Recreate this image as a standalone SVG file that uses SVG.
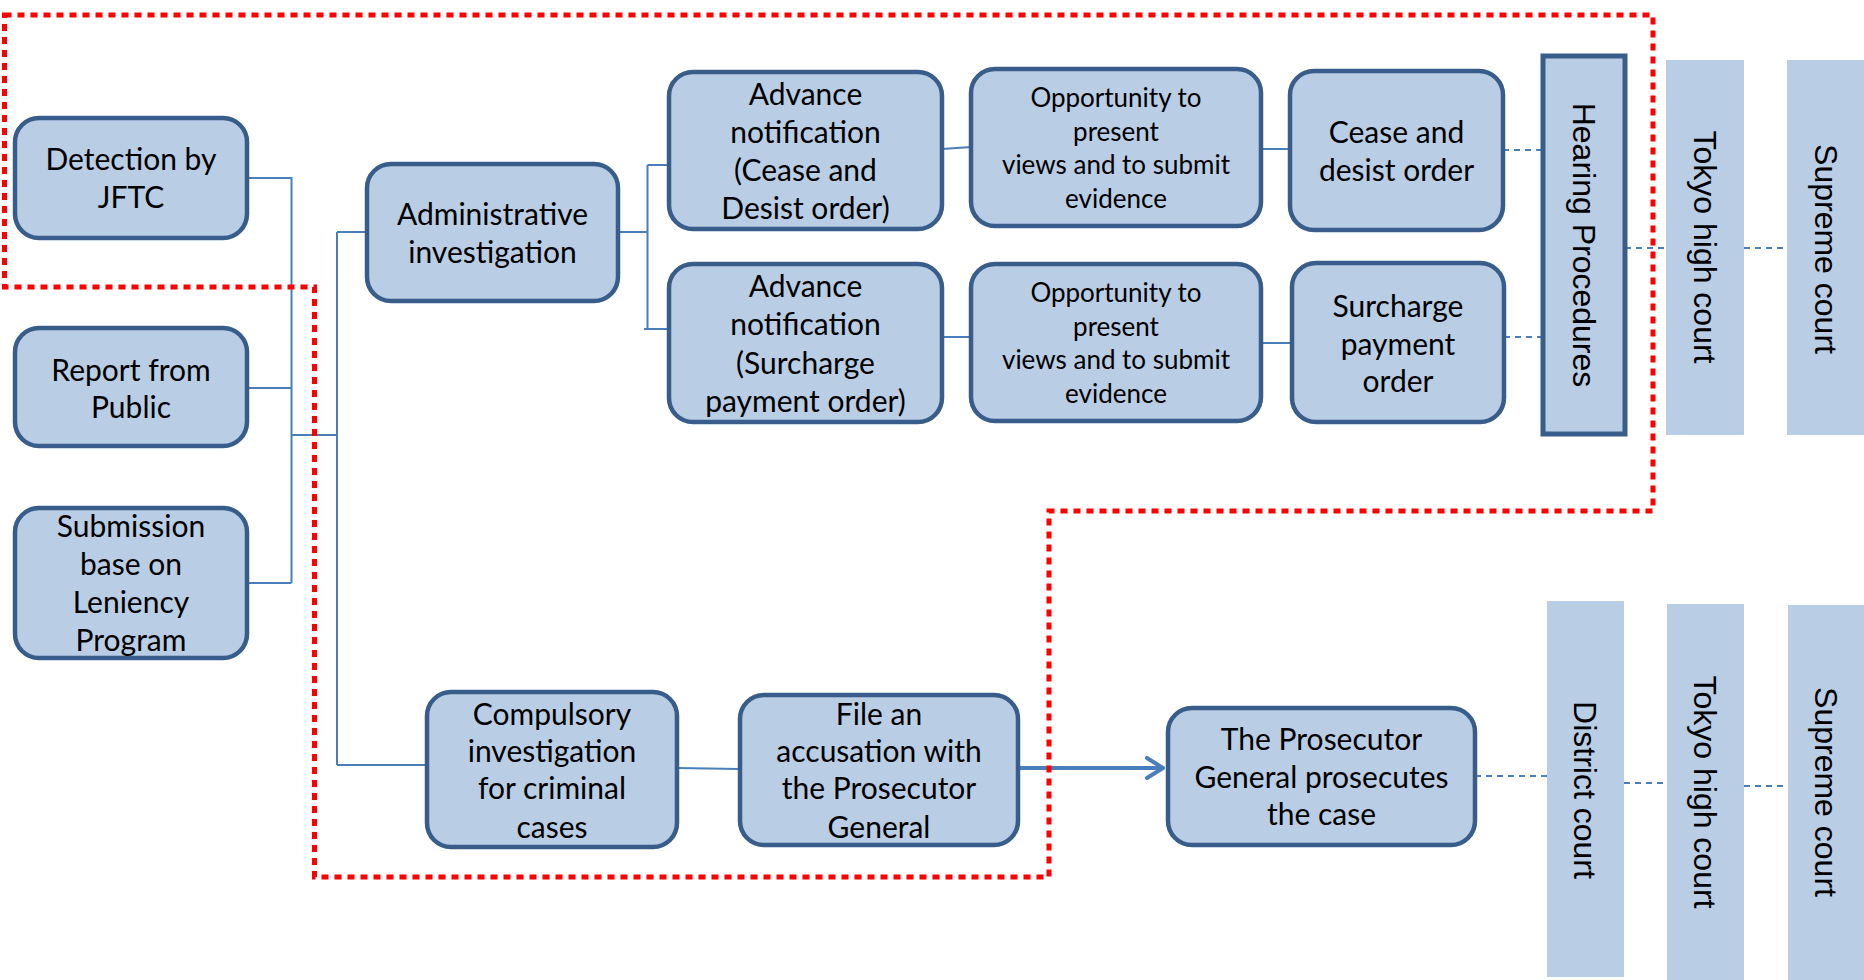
<svg xmlns="http://www.w3.org/2000/svg" width="1864" height="980" viewBox="0 0 1864 980">
<style>
.box{fill:#b9cde5;stroke:#385d8a;stroke-width:4.5}
.court{fill:#b9cde5;stroke:none}
.t{font-family:Lato,"Open Sans","DejaVu Sans",sans-serif;font-size:30px;fill:#000;text-anchor:middle}
.ts{font-family:Lato,"Open Sans","DejaVu Sans",sans-serif;font-size:26px;fill:#000;text-anchor:middle}
.v{font-family:"Liberation Sans",Arial,sans-serif;font-size:32px;fill:#000;text-anchor:middle}
.ln{fill:none;stroke:#4a7ebb;stroke-width:2}
.dash{fill:none;stroke:#4a7ebb;stroke-width:2;stroke-dasharray:6 5}
.red{fill:none;stroke:#ff0000;stroke-width:5;stroke-dasharray:7 6}
</style>
<defs>
<marker id="arr" viewBox="0 0 20 24" markerWidth="20" markerHeight="24" markerUnits="userSpaceOnUse" refX="18" refY="12" orient="auto">
<path d="M2,2 L18,12 L2,22" fill="none" stroke="#4a7ebb" stroke-width="4" stroke-linecap="round" stroke-linejoin="round"/>
</marker>
</defs>
<rect width="1864" height="980" fill="#ffffff"/>

<g id="connectors">
<path class="ln" d="M247,178 H291.5 V583 M247,388 H291.5 M247,583 H291.5 M291.5,435 H337 M337,232 V765 M337,232 H367 M337,765 H427"/>
<path class="ln" d="M618,232 H647.5 M647.5,165 V329 M647.5,165 H669 M644,329 H669"/>
<path class="ln" d="M942,149 L971,147 M1261,149 H1290 M942,337 H971 M1261,343 H1292"/>
<path class="ln" d="M677,768 L740,769"/>
<path d="M1020,768 H1163" fill="none" stroke="#4a7ebb" stroke-width="4" marker-end="url(#arr)"/>
<path class="dash" d="M1503,150 H1543 M1504,337 H1543 M1625,248 H1666 M1744,248 H1787"/>
<path class="dash" d="M1475,776 H1547 M1624,783 H1667 M1744,786 H1788"/>
</g>

<g id="detection">
<rect class="box" x="15" y="118" width="232" height="120" rx="24"/>
<text class="t"><tspan x="131" y="170">Detection by</tspan><tspan x="131" y="208">JFTC</tspan></text>
</g>
<g id="report">
<rect class="box" x="15" y="328" width="232" height="118" rx="24"/>
<text class="t"><tspan x="131" y="381">Report from</tspan><tspan x="131" y="418">Public</tspan></text>
</g>
<g id="leniency">
<rect class="box" x="15" y="508" width="232" height="150" rx="24"/>
<text class="t"><tspan x="131" y="537">Submission</tspan><tspan x="131" y="575">base on</tspan><tspan x="131" y="613">Leniency</tspan><tspan x="131" y="651">Program</tspan></text>
</g>
<g id="admin">
<rect class="box" x="367" y="164" width="251" height="137" rx="24"/>
<text class="t"><tspan x="492.5" y="225">Administrative</tspan><tspan x="492.5" y="263">investigation</tspan></text>
</g>
<g id="advance-cd">
<rect class="box" x="669" y="72" width="273" height="157" rx="24"/>
<text class="t"><tspan x="805.5" y="105">Advance</tspan><tspan x="805.5" y="143">notification</tspan><tspan x="805.5" y="181">(Cease and</tspan><tspan x="805.5" y="219">Desist order)</tspan></text>
</g>
<g id="advance-sp">
<rect class="box" x="669" y="264" width="273" height="158" rx="24"/>
<text class="t"><tspan x="805.5" y="297">Advance</tspan><tspan x="805.5" y="335">notification</tspan><tspan x="805.5" y="374">(Surcharge</tspan><tspan x="805.5" y="412">payment order)</tspan></text>
</g>
<g id="opportunity-cd">
<rect class="box" x="971" y="69" width="290" height="157" rx="24"/>
<text class="ts"><tspan x="1116" y="107">Opportunity to</tspan><tspan x="1116" y="141">present</tspan><tspan x="1116" y="174">views and to submit</tspan><tspan x="1116" y="208">evidence</tspan></text>
</g>
<g id="opportunity-sp">
<rect class="box" x="971" y="264" width="290" height="157" rx="24"/>
<text class="ts"><tspan x="1116" y="302">Opportunity to</tspan><tspan x="1116" y="336">present</tspan><tspan x="1116" y="369">views and to submit</tspan><tspan x="1116" y="403">evidence</tspan></text>
</g>
<g id="cease-desist">
<rect class="box" x="1290" y="71" width="213" height="159" rx="24"/>
<text class="t"><tspan x="1396.5" y="143">Cease and</tspan><tspan x="1396.5" y="181">desist order</tspan></text>
</g>
<g id="surcharge">
<rect class="box" x="1292" y="263" width="212" height="159" rx="24"/>
<text class="t"><tspan x="1398" y="317">Surcharge</tspan><tspan x="1398" y="355">payment</tspan><tspan x="1398" y="392">order</tspan></text>
</g>
<g id="hearing">
<rect x="1543" y="56" width="82" height="378" fill="#b9cde5" stroke="#385d8a" stroke-width="5"/>
<text class="v" x="1584" y="245" dy="0.35em" transform="rotate(90 1584 245)">Hearing Procedures</text>
</g>
<g id="tokyo-1">
<rect class="court" x="1666" y="60" width="78" height="375"/>
<text class="v" x="1705" y="247" dy="0.35em" transform="rotate(90 1705 247)">Tokyo high court</text>
</g>
<g id="supreme-1">
<rect class="court" x="1787" y="60" width="78" height="375"/>
<text class="v" x="1826" y="249" dy="0.35em" transform="rotate(90 1826 249)">Supreme court</text>
</g>
<g id="compulsory">
<rect class="box" x="427" y="692" width="250" height="155" rx="24"/>
<text class="t"><tspan x="552" y="725">Compulsory</tspan><tspan x="552" y="762">investigation</tspan><tspan x="552" y="799">for criminal</tspan><tspan x="552" y="838">cases</tspan></text>
</g>
<g id="accusation">
<rect class="box" x="740" y="695" width="278" height="150" rx="24"/>
<text class="t"><tspan x="879" y="725">File an</tspan><tspan x="879" y="762">accusation with</tspan><tspan x="879" y="799">the Prosecutor</tspan><tspan x="879" y="838">General</tspan></text>
</g>
<g id="prosecutor">
<rect class="box" x="1168" y="708" width="307" height="137" rx="24"/>
<text class="t"><tspan x="1321.5" y="750">The Prosecutor</tspan><tspan x="1321.5" y="788">General prosecutes</tspan><tspan x="1321.5" y="825">the case</tspan></text>
</g>
<g id="district">
<rect class="court" x="1547" y="601" width="77" height="376"/>
<text class="v" x="1585" y="790" dy="0.35em" transform="rotate(90 1585 790)">District court</text>
</g>
<g id="tokyo-2">
<rect class="court" x="1667" y="604" width="77" height="376"/>
<text class="v" x="1705.5" y="792" dy="0.35em" transform="rotate(90 1705.5 792)">Tokyo high court</text>
</g>
<g id="supreme-2">
<rect class="court" x="1788" y="605" width="77" height="376"/>
<text class="v" x="1826" y="792" dy="0.35em" transform="rotate(90 1826 792)">Supreme court</text>
</g>

<g id="jftc-boundary">
<path class="red" d="M4.5,15 H1653 V511 H1049 V877 H314.5 V287 H4.5 Z"/>
</g>
</svg>
